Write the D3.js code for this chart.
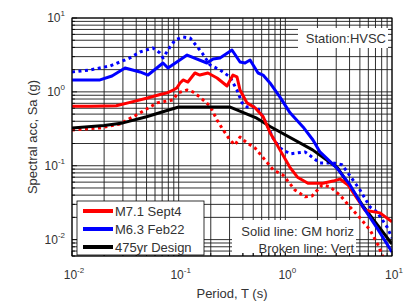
<!DOCTYPE html>
<html>
<head>
<meta charset="utf-8">
<script src="https://cdn.jsdelivr.net/npm/d3@7"></script>
<style>
  body { margin: 0; background: #fff; }
  text { font-family: Arial, "Liberation Sans", sans-serif; fill: #333; }
</style>
</head>
<body>
<div id="chart"></div>
<script>
// ---- data (period T in s, Sa in g)
var redSolidT = [0.01, 0.015, 0.026, 0.035, 0.05, 0.067, 0.078, 0.089, 0.096, 0.103, 0.11, 0.122, 0.142, 0.158, 0.188, 0.229, 0.284, 0.323, 0.352, 0.376, 0.437, 0.52, 0.62, 0.72, 0.89, 1.1, 1.3, 1.63, 2.25, 2.8, 3.25, 3.87, 5.58, 7.72, 10];
var redSolidSa = [0.64, 0.64, 0.65, 0.72, 0.82, 0.92, 0.97, 1.06, 1.13, 1.32, 1.45, 1.36, 1.80, 1.69, 1.80, 1.54, 1.20, 1.69, 1.60, 1.06, 0.71, 0.61, 0.46, 0.28, 0.164, 0.096, 0.07, 0.058, 0.058, 0.062, 0.066, 0.055, 0.025, 0.023, 0.0174];

var redDotT = [0.01, 0.0183, 0.0282, 0.0434, 0.0626, 0.0885, 0.0986, 0.12, 0.136, 0.158, 0.197, 0.229, 0.261, 0.303, 0.337, 0.376, 0.437, 0.52, 0.62, 0.77, 0.95, 1.23, 1.53, 1.78, 2.21, 2.62, 3.25, 4.04, 5.0, 6.22, 7.39, 8.59];
var redDotSa = [0.305, 0.325, 0.368, 0.518, 0.71, 0.78, 0.97, 1.06, 1.0, 0.85, 0.64, 0.417, 0.305, 0.223, 0.191, 0.245, 0.204, 0.174, 0.128, 0.088, 0.075, 0.047, 0.038, 0.039, 0.055, 0.052, 0.04, 0.0277, 0.0197, 0.0135, 0.0085, 0.005];

var blueSolidT = [0.01, 0.0183, 0.0237, 0.0314, 0.0434, 0.0516, 0.0713, 0.0794, 0.12, 0.184, 0.21, 0.244, 0.316, 0.376, 0.419, 0.467, 0.555, 0.618, 0.718, 0.891, 1.107, 1.465, 1.816, 2.11, 3.05, 4.04, 5.35, 7.23, 10];
var blueSolidSa = [1.45, 1.45, 1.64, 2.1, 1.86, 1.69, 2.46, 2.1, 3.15, 2.46, 2.79, 2.88, 3.69, 2.54, 2.46, 2.7, 1.8, 1.69, 1.32, 0.85, 0.52, 0.335, 0.223, 0.154, 0.093, 0.055, 0.0277, 0.0144, 0.0068];

var blueDotT = [0.01, 0.0147, 0.0227, 0.0349, 0.0434, 0.0574, 0.0668, 0.0713, 0.0829, 0.0925, 0.11, 0.128, 0.166, 0.197, 0.244, 0.303, 0.352, 0.393, 0.437, 0.542, 0.618, 0.688, 0.766, 0.891, 1.107, 1.53, 2.11, 2.8, 3.4, 4.31, 5.01, 6.22, 7.23, 8.97, 10];
var blueDotSa = [1.86, 1.98, 2.24, 2.88, 3.47, 3.93, 3.36, 2.88, 4.05, 5.03, 5.53, 5.36, 3.36, 2.31, 1.98, 1.59, 1.06, 0.71, 0.625, 0.625, 0.457, 0.335, 0.238, 0.174, 0.145, 0.154, 0.109, 0.109, 0.103, 0.064, 0.047, 0.0277, 0.0237, 0.0149, 0.0105];

var designT = [0.01, 0.02, 0.03, 0.05, 0.075, 0.1, 0.3, 0.54, 0.72, 1.8, 3.1, 5.3, 10];
var designSa = [0.325, 0.35, 0.38, 0.46, 0.55, 0.625, 0.625, 0.44, 0.34, 0.164, 0.093, 0.029, 0.0087];

var xTicks = [0.01, 0.1, 1, 10];
var yTicks = [0.01, 0.1, 1, 10];
var legendLabels = ["M7.1 Sept4", "M6.3 Feb22", "475yr Design"];
var legendColors = ["#ff0000", "#0000ff", "#000000"];

// ---- layout
var W = 413, H = 304;
var mLeft = 72, mRight = 392, mTop = 18, mBottom = 256;

var svg = d3.select("#chart").append("svg")
    .attr("width", W).attr("height", H);

var x = d3.scaleLog().domain([0.01, 10]).range([mLeft, mRight]);
var y = d3.scaleLog().domain([0.006, 10]).range([mBottom, mTop]);

// grid (major + minor, as in a matlab "grid minor")
function logLines(lo, hi) {
  var out = [];
  for (var e = -3; e <= 1; e++) {
    for (var m = 1; m <= 9; m++) {
      var v = m * Math.pow(10, e);
      if (v >= lo * 0.999 && v <= hi * 1.001) out.push(v);
    }
  }
  return out;
}
var grid = svg.append("g").attr("stroke", "#000").attr("stroke-width", 0.9).attr("opacity", 0.9);
grid.selectAll(".gx").data(logLines(0.01, 10)).enter().append("line")
    .attr("x1", d => x(d)).attr("x2", d => x(d))
    .attr("y1", mTop).attr("y2", mBottom);
grid.selectAll(".gy").data(logLines(0.006, 10)).enter().append("line")
    .attr("x1", mLeft).attr("x2", mRight)
    .attr("y1", d => y(d)).attr("y2", d => y(d));

// white box behind the note text
svg.append("rect").attr("x", 232).attr("y", 220).attr("width", 124).attr("height", 33).attr("fill", "#fff");

// curves
svg.append("clipPath").attr("id", "clip").append("rect")
    .attr("x", mLeft).attr("y", mTop).attr("width", mRight - mLeft).attr("height", mBottom - mTop);

var line = d3.line().x(d => x(d[0])).y(d => y(d[1]));
function zip(a, b) { return a.map((v, i) => [v, b[i]]); }

var curves = [
  {data: zip(redDotT, redDotSa), color: "#ff0000", dash: "3,3.5"},
  {data: zip(blueDotT, blueDotSa), color: "#0000ff", dash: "3,3.5"},
  {data: zip(designT, designSa), color: "#000000", dash: null},
  {data: zip(redSolidT, redSolidSa), color: "#ff0000", dash: null},
  {data: zip(blueSolidT, blueSolidSa), color: "#0000ff", dash: null}
];
var cg = svg.append("g").attr("clip-path", "url(#clip)");
curves.forEach(function(c) {
  cg.append("path").datum(c.data)
    .attr("d", line)
    .attr("fill", "none")
    .attr("stroke", c.color)
    .attr("stroke-width", 3)
    .attr("stroke-linejoin", "round")
    .attr("stroke-dasharray", c.dash);
});

// axes frame + inward ticks
var minorX = logLines(0.01, 10), minorY = logLines(0.006, 10);
var ax = svg.append("g").attr("stroke", "#000").attr("stroke-width", 0.8);
ax.selectAll(".tb").data(minorX).enter().append("line")
    .attr("x1", d => x(d)).attr("x2", d => x(d))
    .attr("y1", mBottom).attr("y2", d => mBottom - (xTicks.indexOf(d) >= 0 ? 5 : 3));
ax.selectAll(".tl").data(minorY).enter().append("line")
    .attr("y1", d => y(d)).attr("y2", d => y(d))
    .attr("x1", mLeft).attr("x2", d => mLeft + (yTicks.indexOf(d) >= 0 ? 5 : 3));
svg.append("rect").attr("x", mLeft).attr("y", mTop)
    .attr("width", mRight - mLeft).attr("height", mBottom - mTop)
    .attr("fill", "none").attr("stroke", "#000").attr("stroke-width", 1);

// tick labels 10^n
function expLabel(sel, v) {
  var e = Math.round(Math.log10(v));
  sel.append("tspan").text("10");
  sel.append("tspan").attr("font-size", 8).attr("dy", -6).text(e);
}
xTicks.forEach(function(v) {
  var t = svg.append("text").attr("x", x(v) + 2).attr("y", 279)
      .attr("text-anchor", "middle").attr("font-size", 12);
  expLabel(t, v);
});
yTicks.forEach(function(v) {
  var t = svg.append("text").attr("x", 65).attr("y", y(v) + 4)
      .attr("text-anchor", "end").attr("font-size", 12);
  expLabel(t, v);
});

// axis titles
svg.append("text").attr("x", (mLeft + mRight) / 2).attr("y", 298)
    .attr("text-anchor", "middle").attr("font-size", 13).text("Period, T (s)");
svg.append("text").attr("transform", "translate(37," + (mTop + mBottom) / 2 + ") rotate(-90)")
    .attr("text-anchor", "middle").attr("font-size", 13).text("Spectral acc, Sa (g)");

// station label
svg.append("rect").attr("x", 298).attr("y", 28).attr("width", 90).attr("height", 20).attr("fill", "#fff");
svg.append("text").attr("x", 386).attr("y", 43).attr("text-anchor", "end")
    .attr("font-size", 13).text("Station:HVSC");

// note text
svg.append("text").attr("x", 354).attr("y", 236).attr("text-anchor", "end")
    .attr("font-size", 13).text("Solid line: GM horiz");
svg.append("text").attr("x", 354).attr("y", 253).attr("text-anchor", "end")
    .attr("font-size", 13).text("Broken line: Vert");

// legend
var lg = svg.append("g");
lg.append("rect").attr("x", 77).attr("y", 201).attr("width", 127).attr("height", 54)
    .attr("fill", "#fff").attr("stroke", "#000").attr("stroke-width", 0.8);
legendLabels.forEach(function(lab, i) {
  var yy = 211 + i * 18;
  lg.append("line").attr("x1", 83).attr("x2", 113).attr("y1", yy).attr("y2", yy)
    .attr("stroke", legendColors[i]).attr("stroke-width", 4);
  lg.append("text").attr("x", 115).attr("y", yy + 5).attr("font-size", 13).text(lab);
});
</script>
</body>
</html>
